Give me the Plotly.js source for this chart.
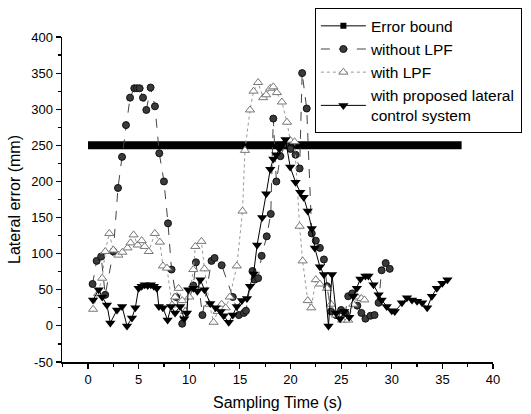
<!DOCTYPE html>
<html>
<head>
<meta charset="utf-8">
<script src="https://cdn.plot.ly/plotly-3.0.1.min.js"></script>
<style>html,body{margin:0;padding:0;background:#fff;}#chart{width:531px;height:414px;}</style>
</head>
<body>
<div id="chart"></div>
<script>
// Error bound
const boundX = [0, 36.9];
const boundY = [250, 250];

// without LPF (circles)
const noLpfX = [0.45,0.85,1.3,1.7,2.5,2.96,3.36,3.75,4.15,4.57,4.84,5.1,5.43,5.76,6.18,6.61,7.04,7.5,7.9,8.25,8.7,9.3,10.4,10.66,11.3,12.2,12.5,13.2,14.3,14.9,15.4,15.6,16.25,16.45,16.8,17.15,17.65,18.05,18.3,18.6,19.0,19.5,20.0,20.5,20.9,21.15,21.6,22.1,22.5,22.9,23.3,23.6,24.0,24.5,25.0,25.4,25.7,26.1,26.6,27.0,27.4,27.9,28.3,28.7,29.0,29.4,29.8];
const noLpfY = [58,90,96,43,103,191,234,278,316,329,329,329,316,299,330,304,239,200,142,78,40,3,56,88,15,90,94,84,40,15,18,21,76,64,66,97,124,155,287,200,235,252,245,237,218,350,301,128,118,108,92,55,20,15,22,18,41,45,28,18,10,14,15,32,77,87,79];

// with LPF (open triangles)
const lpfX = [0.5,1.0,1.4,1.7,2.1,2.5,3.0,3.4,3.9,4.2,4.5,4.9,5.3,5.6,6.0,6.6,7.1,7.4,7.8,8.3,8.6,8.95,9.3,9.6,10.0,10.4,10.6,11.2,11.5,12.0,12.4,12.8,13.2,13.6,14.0,14.7,15.26,15.5,16.0,16.35,16.8,17.3,17.6,18.0,18.3,18.65,19.15,19.65,19.97,20.4,20.9,21.2,21.7,22.05,22.5,22.9,23.6,24.0,24.5,25.1,25.7,26.2,26.6,27.0,27.3];
const lpfY = [23,45,66,103,128,105,98,102,108,115,126,112,118,110,103,128,116,83,80,29,40,52,35,20,40,78,110,117,79,30,5,20,30,25,40,83,159,243,299,325,337,316,320,329,331,323,310,282,257,255,138,90,35,25,64,58,52,30,15,8,8,30,40,38,36];

// with proposed lateral control system (filled down triangles)
const propX = [0.5,1.05,1.4,1.87,2.2,2.86,3.36,3.85,4.34,4.67,5.0,5.3,5.6,5.9,6.2,6.5,6.8,7.0,7.4,7.86,8.2,8.6,9.1,9.5,9.77,9.9,10.4,10.8,11.1,11.5,12.07,12.6,13.1,13.4,13.9,14.3,14.7,15.2,15.7,16.0,16.35,16.7,17.2,17.6,18.0,18.3,18.6,18.9,19.2,19.5,19.97,20.5,20.96,21.3,21.7,22.1,22.4,22.9,23.3,23.75,24.1,24.5,24.9,25.3,25.8,26.2,26.55,26.9,27.4,27.7,28.2,28.7,29.0,29.5,30.0,30.3,31.0,31.5,32.0,32.5,33.0,33.5,33.96,34.45,35.0,35.5];
const propY = [36,50,40,29,4,22,27,0,11,25,52,55,57,56,57,55,52,27,25,8,27,18,27,10,18,50,52,48,64,50,31,25,20,14,5,15,27,35,38,55,72,112,150,183,217,231,237,245,252,258,220,199,185,178,159,135,108,82,71,0,71,18,10,20,12,41,52,65,69,69,57,43,36,27,21,20,32,39,36,34,32,25,41,52,59,64];

const xTicks = [0,5,10,15,20,25,30,35,40];
const yTicks = [-50,0,50,100,150,200,250,300,350,400];

const FONT = 'Liberation Sans, Arial, sans-serif';

const traces = [
  {x:[null], y:[null], name:'Error bound', mode:'lines+markers',
   line:{color:'#000', width:1}, marker:{symbol:'square', size:6, color:'#000'}},
  {x:boundX, y:boundY, mode:'lines', showlegend:false, hoverinfo:'skip',
   line:{color:'#000', width:8}},
  {x:noLpfX, y:noLpfY, name:'without LPF', mode:'lines+markers',
   line:{color:'#444', width:1, dash:'dash'},
   marker:{symbol:'circle', size:7, color:'#3a3a3a', line:{color:'#111', width:1}}},
  {x:lpfX, y:lpfY, name:'with LPF', mode:'lines+markers',
   line:{color:'#999', width:1, dash:'dot'},
   marker:{symbol:'triangle-up', size:8, color:'#fff', line:{color:'#777', width:1}}},
  {x:propX, y:propY, name:'with proposed lateral<br>control system', mode:'lines+markers',
   line:{color:'#000', width:1},
   marker:{symbol:'triangle-down', size:9, color:'#000', line:{color:'#000', width:0}}}
];

const layout = {
  width:531, height:414,
  margin:{l:62, r:38, t:37, b:52, autoexpand:false},
  paper_bgcolor:'#fff', plot_bgcolor:'#fff',
  font:{family:FONT, size:13, color:'#000'},
  showlegend:true,
  legend:{xref:'container', yref:'container', x:0.593, y:0.98, xanchor:'left', yanchor:'top',
    bgcolor:'#fff', bordercolor:'#000', borderwidth:1,
    font:{family:FONT, size:15.5, color:'#000'}, tracegroupgap:0, itemwidth:45},
  xaxis:{range:[-2.57,40], tickvals:xTicks, ticktext:xTicks.map(String),
    showgrid:false, zeroline:false, showline:true, linecolor:'#000', linewidth:1.5,
    ticks:'outside', ticklen:5, tickwidth:1.2, tickcolor:'#000',
    minor:{dtick:2.5, tick0:0, ticks:'outside', ticklen:3, tickcolor:'#000', showgrid:false},
    tickfont:{family:FONT, size:13},
    title:{text:'Sampling Time (s)', font:{family:FONT, size:16}, standoff:10}},
  yaxis:{range:[-50,400], tickvals:yTicks, ticktext:yTicks.map(String),
    showgrid:false, zeroline:false, showline:true, linecolor:'#000', linewidth:1.5,
    ticks:'outside', ticklen:5, tickwidth:1.2, tickcolor:'#000',
    minor:{dtick:25, tick0:0, ticks:'outside', ticklen:3, tickcolor:'#000', showgrid:false},
    tickfont:{family:FONT, size:13},
    title:{text:'Lateral error (mm)', font:{family:FONT, size:16}, standoff:6}}
};

Plotly.newPlot('chart', traces, layout, {staticPlot:true, displayModeBar:false});
</script>
</body>
</html>
